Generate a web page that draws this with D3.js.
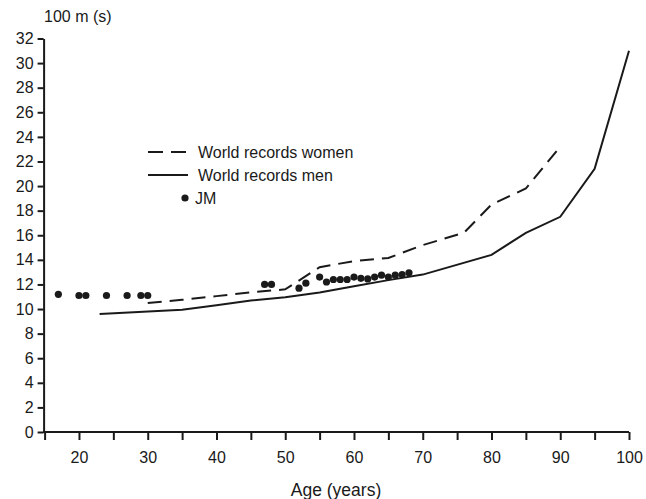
<!DOCTYPE html>
<html lang="en">
<head>
    <meta charset="UTF-8">
    <title>100 m world records by age</title>
    <style>
        body {
            margin: 0;
            padding: 0;
            background: #fff;
            overflow: hidden;
        }
        svg text {
            font-family: 'Liberation Sans', Arial, sans-serif;
            fill: #1a1a1a;
        }
        .axis path, .axis line {
            stroke: #1a1a1a;
            stroke-width: 2px;
        }
        .line {
            fill: none;
            stroke: #1a1a1a;
            stroke-width: 2px;
        }
    </style>
</head>
<body>
    <svg id="chart" width="646" height="499"></svg>

    <script src="https://d3js.org/d3.v7.min.js"></script>
    <script>
        // World records, women (age, seconds)
        const womenAges  = [30, 35, 40, 45, 50, 55, 60, 65, 70, 76, 80, 85, 90];
        const womenTimes = [10.5, 10.75, 11.05, 11.35, 11.6, 13.4, 13.9, 14.15, 15.2, 16.2, 18.5, 19.8, 23.2];

        // World records, men
        const menAges  = [23, 35, 40, 45, 50, 55, 60, 65, 70, 80, 85, 90, 95, 100];
        const menTimes = [9.6, 9.95, 10.3, 10.7, 10.95, 11.35, 11.85, 12.35, 12.8, 14.4, 16.2, 17.5, 21.4, 31.0];

        // JM personal results
        const jmAges  = [17, 20, 21, 24, 27, 29, 30, 47, 48, 52, 53, 55, 56, 57, 58, 59, 60, 61, 62, 63, 64, 65, 66, 67, 68];
        const jmTimes = [11.2, 11.1, 11.1, 11.1, 11.1, 11.1, 11.1, 12.0, 12.0, 11.7, 12.1, 12.6, 12.2, 12.4, 12.4, 12.4, 12.6, 12.5, 12.45, 12.6, 12.75, 12.6, 12.75, 12.8, 12.95];

        const xTicks = d3.range(15, 101, 5);
        const yTicks = d3.range(0, 33, 2);

        const svg = d3.select("#chart");

        const x = d3.scaleLinear().domain([15, 100]).range([44.6, 629]);
        const y = d3.scaleLinear().domain([0, 32]).range([432, 38.5]);

        const xAxis = d3.axisBottom(x)
            .tickValues(xTicks)
            .tickSize(8)
            .tickSizeOuter(0)
            .tickFormat(d => d % 10 === 0 && d > 15 ? d : "");

        const yAxis = d3.axisLeft(y)
            .tickValues(yTicks)
            .tickSize(6)
            .tickSizeOuter(0);

        const gx = svg.append("g")
            .attr("class", "x axis")
            .attr("transform", `translate(0,${y(0)})`)
            .call(xAxis);
        gx.select(".domain").attr("d", `M${x(15) - 1.5},0H${x(100)}`);
        gx.selectAll("text")
            .attr("y", 20)
            .style("font-size", "16px");

        const gy = svg.append("g")
            .attr("class", "y axis")
            .attr("transform", `translate(${x(15) - 1},0)`)
            .call(yAxis);
        gy.selectAll("text")
            .attr("x", -10)
            .style("font-size", "16px");

        // axis titles
        svg.append("text")
            .attr("x", 44)
            .attr("y", 22)
            .style("font-size", "16px")
            .text("100 m (s)");

        svg.append("text")
            .attr("x", 336)
            .attr("y", 496)
            .attr("text-anchor", "middle")
            .style("font-size", "17.5px")
            .text("Age (years)");

        const line = d3.line()
            .x(d => x(d[0]))
            .y(d => y(d[1]));

        svg.append("path")
            .attr("class", "line")
            .attr("d", line(d3.zip(womenAges, womenTimes)))
            .attr("stroke-dasharray", "14,8");

        svg.append("path")
            .attr("class", "line")
            .attr("d", line(d3.zip(menAges, menTimes)));

        svg.selectAll(".jm")
            .data(d3.zip(jmAges, jmTimes))
          .enter().append("circle")
            .attr("class", "jm")
            .attr("cx", d => x(d[0]))
            .attr("cy", d => y(d[1]))
            .attr("r", 3.6)
            .attr("fill", "#1a1a1a");

        // legend
        const legend = svg.append("g");
        legend.append("line")
            .attr("class", "line")
            .attr("x1", 148).attr("x2", 188)
            .attr("y1", 152).attr("y2", 152)
            .attr("stroke-dasharray", "15,8");
        legend.append("line")
            .attr("class", "line")
            .attr("x1", 148).attr("x2", 188)
            .attr("y1", 175).attr("y2", 175);
        legend.append("circle")
            .attr("cx", 185).attr("cy", 198).attr("r", 3.6)
            .attr("fill", "#1a1a1a");

        const labels = ["World records women", "World records men", "JM"];
        legend.selectAll(".lbl")
            .data(labels)
          .enter().append("text")
            .attr("class", "lbl")
            .attr("x", (d, i) => i === 2 ? 195 : 198)
            .attr("y", (d, i) => 158 + i * 23)
            .style("font-size", "16px")
            .text(d => d);
    </script>
</body>
</html>
